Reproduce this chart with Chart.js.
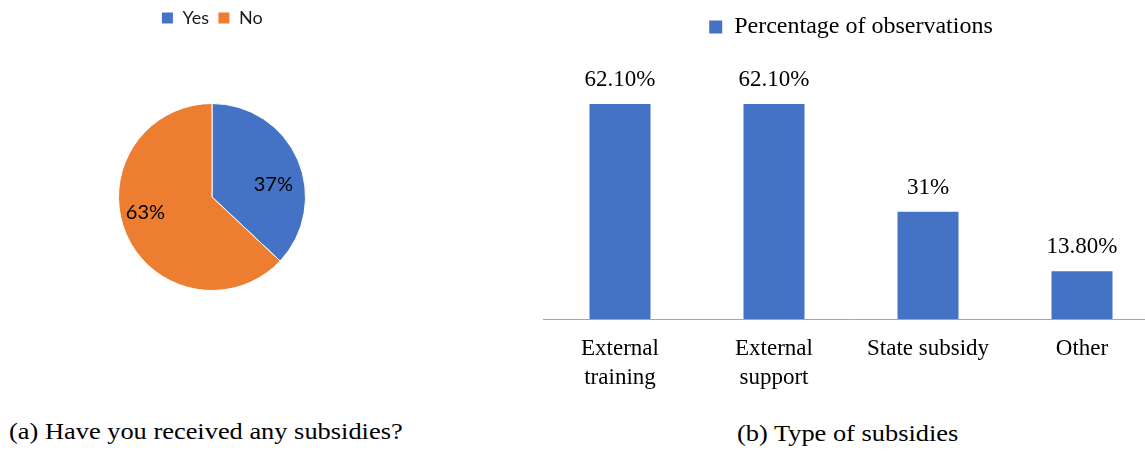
<!DOCTYPE html>
<html>
<head>
<meta charset="utf-8">
<script src="https://cdn.jsdelivr.net/npm/chart.js@4/dist/chart.umd.min.js"></script>
<style>
  html, body { margin: 0; padding: 0; background: #fff; }
  body { width: 1145px; height: 452px; position: relative; overflow: hidden; }
  #pieBox { position: absolute; left: 118px; top: 0; }
  #barBox { position: absolute; left: 543px; top: 0; width: 602px; height: 420px; overflow: hidden; }
  .caption {
    position: absolute; font-family: "Liberation Serif", "Times New Roman", serif;
    font-size: 24px; line-height: 24px; color: #000; white-space: nowrap;
    transform: scaleX(1.1); transform-origin: left center;
  }
</style>
</head>
<body>
<div id="pieBox"><canvas id="pie" width="188" height="357"></canvas></div>
<div id="barBox"><canvas id="bar" width="616" height="420"></canvas></div>
<div class="caption" style="left:9px; top:419px;">(a) Have you received any subsidies?</div>
<div class="caption" style="left:737px; top:421px;">(b) Type of subsidies</div>

<script>
// (a) subsidy received
const pieLabels = ['Yes', 'No'];
const pieValues = [37, 63];

// (b) subsidy types
const barCategories = [['External', 'training'], ['External', 'support'], 'State subsidy', 'Other'];
const barValues = [62.1, 62.1, 31, 13.8];
const barSeriesName = 'Percentage of observations';

const BLUE = '#4472C4';
const ORANGE = '#ED7D31';
const SERIF = '"Liberation Serif", "Times New Roman", serif';
const SANS = 'Lato, "Open Sans", sans-serif';

// percentage text written inside each pie slice
const pieValueLabels = {
  id: 'pieValueLabels',
  afterDatasetsDraw(chart, args, opts) {
    const ctx = chart.ctx;
    const meta = chart.getDatasetMeta(0);
    const total = pieValues.reduce((a, b) => a + b, 0);
    ctx.save();
    ctx.font = opts.font;
    ctx.fillStyle = opts.color;
    ctx.textAlign = 'center';
    ctx.textBaseline = 'middle';
    meta.data.forEach((arc, i) => {
      const p = arc.getProps(['x', 'y', 'startAngle', 'endAngle', 'outerRadius'], true);
      const place = opts.placement[i];
      const a = (p.startAngle + p.endAngle) / 2 + place.turn * Math.PI / 180;
      const r = p.outerRadius * place.radius;
      const pct = Math.round(pieValues[i] / total * 100) + '%';
      ctx.fillText(pct, p.x + Math.cos(a) * r, p.y + Math.sin(a) * r);
    });
    ctx.restore();
  }
};

// value text above each bar
const barValueLabels = {
  id: 'barValueLabels',
  afterDatasetsDraw(chart, args, opts) {
    const ctx = chart.ctx;
    const meta = chart.getDatasetMeta(0);
    ctx.save();
    ctx.font = opts.font;
    ctx.fillStyle = opts.color;
    ctx.textAlign = 'center';
    ctx.textBaseline = 'alphabetic';
    meta.data.forEach((bar, i) => {
      const v = barValues[i];
      const txt = (Number.isInteger(v) ? String(v) : v.toFixed(2)) + '%';
      ctx.fillText(txt, bar.x, bar.y - opts.gap);
    });
    ctx.restore();
  }
};

new Chart(document.getElementById('pie'), {
  type: 'pie',
  data: {
    labels: pieLabels,
    datasets: [{
      data: pieValues,
      backgroundColor: [BLUE, ORANGE],
      borderColor: '#ffffff',
      borderWidth: 1
    }]
  },
  options: {
    responsive: false,
    animation: false,
    layout: { padding: 0 },
    plugins: {
      tooltip: { enabled: false },
      legend: {
        position: 'top',
        labels: {
          boxWidth: 12, boxHeight: 12, padding: 9,
          color: '#1a1a1a',
          font: { family: SANS, size: 18 }
        }
      },
      pieValueLabels: {
        font: '20px ' + SANS,
        color: '#000000',
        placement: [{ turn: 11.5, radius: 0.67 }, { turn: 10.5, radius: 0.73 }]
      }
    }
  },
  plugins: [pieValueLabels]
});

new Chart(document.getElementById('bar'), {
  type: 'bar',
  data: {
    labels: barCategories,
    datasets: [{
      label: barSeriesName,
      data: barValues,
      backgroundColor: BLUE,
      borderWidth: 0,
      categoryPercentage: 1,
      barPercentage: 61 / 154
    }]
  },
  options: {
    responsive: false,
    animation: false,
    layout: { padding: 0 },
    scales: {
      x: {
        grid: { display: false, drawTicks: false },
        border: { display: true, color: '#A6A6A6', width: 1 },
        ticks: {
          padding: 15,
          color: '#000000',
          maxRotation: 0,
          autoSkip: false,
          font: { family: SERIF, size: 23, lineHeight: '29px' }
        },
        afterFit(scale) { scale.height = 101; }
      },
      y: {
        display: false,
        min: 0,
        max: 78.0
      }
    },
    plugins: {
      tooltip: { enabled: false },
      legend: {
        position: 'top',
        labels: {
          boxWidth: 13, boxHeight: 13, padding: 15,
          color: '#000000',
          font: { family: SERIF, size: 24 }
        }
      },
      barValueLabels: {
        font: '23px ' + SERIF,
        color: '#000000',
        gap: 18
      }
    }
  },
  plugins: [barValueLabels]
});
</script>
</body>
</html>
